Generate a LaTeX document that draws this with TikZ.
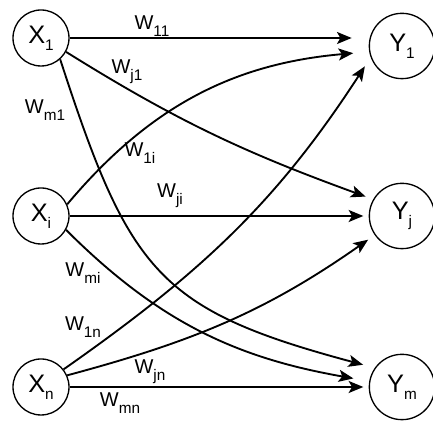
\documentclass[tikz,border=0pt]{standalone}
\usepackage{fontspec}
\setmainfont{Liberation Sans}
\usetikzlibrary{arrows.meta}

% letter with a lowered index
\newcommand{\idx}[2]{#1\raisebox{-5.5pt}{\fontsize{11.5}{13}\selectfont #2}}

\tikzset{
  inunit/.style={draw, circle, line width=1pt, minimum size=42pt, inner sep=0pt,
    font=\fontsize{19}{22}\selectfont},
  outunit/.style={inunit, minimum size=49pt},
  syn/.style={-{Stealth[length=11pt,width=9pt,inset=2.5pt]}, line width=1.4pt},
  wt/.style={font=\fontsize{15}{18}\selectfont, inner sep=1pt}
}

\begin{document}
\begin{tikzpicture}[x=0.75pt,y=0.75pt]
    \useasboundingbox (0,0) rectangle (433,423);
    % input and output units
    \node[inunit] (X1) at (41,385) {\idx{X}{1}};
    \node[inunit] (Xi) at (41,207) {\idx{X}{i}};
    \node[inunit] (Xn) at (41,36) {\idx{X}{n}};
    \node[outunit] (Y1) at (402,377) {\idx{Y}{1}};
    \node[outunit] (Yj) at (402,207) {\idx{Y}{j}};
    \node[outunit] (Ym) at (402,36) {\idx{Y}{m}};
    % weights into Y1
    \draw[syn, shorten >=12.75pt] (X1) -- (X1 -| Y1.west);
    \draw[syn, shorten >=12pt] (Xi.24) to[out=50, in=185] (Y1.190);
    \draw[syn, shorten >=8pt] (Xn.38) to[out=35, in=237] (Y1.200);
    % weights into Yj
    \draw[syn, shorten >=6pt] (X1.-29) to[out=-32, in=160] (Yj.150);
    \draw[syn, shorten >=4pt] (Xi) -- (Yj);
    \draw[syn, shorten >=6pt] (Xn.24) to[out=15, in=215] (Yj.215);
    % weights into Ym
    \draw[syn, shorten >=9pt] (X1.-48) to[out=-72, in=165, looseness=1.3] (Ym.145);
    \draw[syn, shorten >=12pt] (Xi.-29) to[out=-45, in=170] (Ym.170);
    \draw[syn, shorten >=4pt] (Xn) -- (Ym);
    % weight labels
    \node[wt] (w11) at (152,397) {\idx{W}{11}};
    \node[wt] (wj1) at (127,351) {\idx{W}{j1}};
    \node[wt] (wm1) at (45,313) {\idx{W}{m1}};
    \node[wt] (w1i) at (140,270) {\idx{W}{1i}};
    \node[wt] (wji) at (170,227) {\idx{W}{ji}};
    \node[wt] (wmi) at (83,150) {\idx{W}{mi}};
    \node[wt] (w1n) at (83,96) {\idx{W}{1n}};
    \node[wt] (wjn) at (150,51) {\idx{W}{jn}};
    \node[wt] (wmn) at (120,20) {\idx{W}{mn}};
\end{tikzpicture}
\end{document}
